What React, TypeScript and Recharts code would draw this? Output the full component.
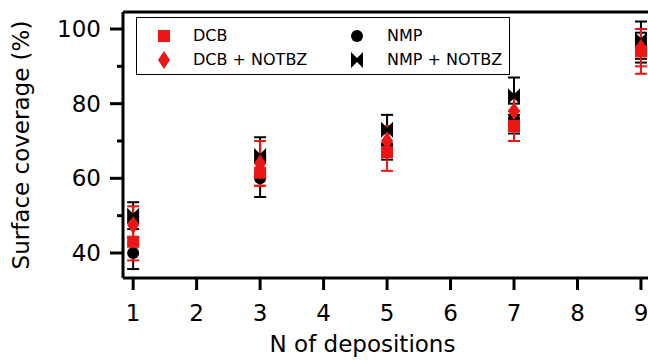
import React from 'react';
import { ScatterChart, Scatter, XAxis, YAxis, ErrorBar, ReferenceLine, Legend } from 'recharts';

const depositions = [1, 3, 5, 7, 9];
const dcb = [43, 61.5, 67, 74, 94];
const dcbErr = [5, 3.5, 5, 4, 6];
const dcbNotbz = [47.5, 64, 70, 78, 95];
const dcbNotbzErr = [5, 6, 4, 4, 5];
const nmp = [40, 60, 69, 76, 95];
const nmpErr = [4.3, 5, 4, 4, 4];
const nmpNotbz = [50, 66, 73, 82, 97];
const nmpNotbzErr = [3.6, 5, 4, 5, 5];

const xTicks = [1, 2, 3, 4, 5, 6, 7, 8, 9];
const yTicks = [40, 50, 60, 70, 80, 90, 100];
const yLabelTicks = [40, 60, 80, 100];
const xDomain = [0.84, 9.3];
const yDomain = [33.3, 104.55];

const RED = '#ee1515';
const BLACK = '#000';
const FONT = '"DejaVu Sans", sans-serif';

const mk = (ys: number[], errs: number[]) =>
  depositions.map((x, i) => ({ x, y: ys[i], err: errs[i] }));

const dcbData = mk(dcb, dcbErr);
const dcbNotbzData = mk(dcbNotbz, dcbNotbzErr);
const nmpData = mk(nmp, nmpErr);
const nmpNotbzData = mk(nmpNotbz, nmpNotbzErr);

const SquareShape = (p: any) => <rect x={p.cx - 6} y={p.cy - 6} width={12} height={12} fill={RED} />;
const CircleShape = (p: any) => <circle cx={p.cx} cy={p.cy} r={6} fill={BLACK} />;
const DiamondShape = (p: any) => (
  <polygon
    points={`${p.cx},${p.cy - 9} ${p.cx + 6},${p.cy} ${p.cx},${p.cy + 9} ${p.cx - 6},${p.cy}`}
    fill={RED}
  />
);
const BowtieShape = (p: any) => (
  <polygon
    points={`${p.cx - 6},${p.cy - 8} ${p.cx},${p.cy - 2} ${p.cx + 6},${p.cy - 8} ${p.cx + 6},${p.cy + 8} ${p.cx},${p.cy + 2} ${p.cx - 6},${p.cy + 8}`}
    fill={BLACK}
  />
);

const YTick = (props: any) => {
  const { x, y, payload } = props;
  const major = yLabelTicks.includes(payload.value);
  return (
    <g>
      <line x1={x} x2={x - (major ? 13 : 6)} y1={y} y2={y} stroke={BLACK} strokeWidth={3} />
      {major && (
        <text x={x - 22} y={y} textAnchor="end" dominantBaseline="central" fontSize={23} fontFamily={FONT} fill={BLACK}>
          {payload.value}
        </text>
      )}
    </g>
  );
};

const XTick = (props: any) => {
  const { x, y, payload } = props;
  return (
    <g>
      <line x1={x} x2={x} y1={y} y2={y + 12} stroke={BLACK} strokeWidth={3} />
      <text x={x} y={y + 43} textAnchor="middle" fontSize={23} fontFamily={FONT} fill={BLACK}>
        {payload.value}
      </text>
    </g>
  );
};

const YTitle = (props: any) => {
  const vb = props.viewBox || { x: 0, y: 12, width: 123, height: 266 };
  const cy = vb.y + vb.height / 2;
  const bx = 29;
  return (
    <text x={bx} y={cy} transform={`rotate(-90, ${bx}, ${cy})`} textAnchor="middle" fontSize={23} fontFamily={FONT} fill={BLACK}>
      Surface coverage (%)
    </text>
  );
};

const XTitle = (props: any) => {
  const vb = props.viewBox || { x: 123, y: 278, width: 536, height: 82 };
  const cx = vb.x + vb.width / 2 - 29;
  return (
    <text x={cx} y={vb.y + 74} textAnchor="middle" fontSize={23} fontFamily={FONT} fill={BLACK}>
      N of depositions
    </text>
  );
};

const LegendIcon = ({ kind }: { kind: string }) => {
  const c = { cx: 9, cy: 10 };
  return (
    <svg width={18} height={20} style={{ position: 'absolute', left: -9, top: -10 }}>
      {kind === 'square' && <SquareShape {...c} />}
      {kind === 'circle' && <CircleShape {...c} />}
      {kind === 'diamond' && <DiamondShape {...c} />}
      {kind === 'bowtie' && <BowtieShape {...c} />}
    </svg>
  );
};

const legendItems = [
  { name: 'DCB', kind: 'square', col: 0, row: 0 },
  { name: 'DCB + NOTBZ', kind: 'diamond', col: 0, row: 1 },
  { name: 'NMP', kind: 'circle', col: 1, row: 0 },
  { name: 'NMP + NOTBZ', kind: 'bowtie', col: 1, row: 1 },
];

const renderLegend = () => (
  <div
    style={{
      position: 'relative',
      width: 374,
      height: 58,
      boxSizing: 'border-box',
      border: '1.5px solid #000',
      background: '#fff',
      fontFamily: FONT,
      fontSize: 16,
      color: '#000',
    }}
  >
    {legendItems.map((it) => {
      const mx = it.col === 0 ? 27 : 220;
      const tx = it.col === 0 ? 56 : 250;
      const cy = it.row === 0 ? 18 : 42;
      return (
        <React.Fragment key={it.name}>
          <div style={{ position: 'absolute', left: mx, top: cy, width: 0, height: 0 }}>
            <LegendIcon kind={it.kind} />
          </div>
          <div style={{ position: 'absolute', left: tx, top: cy - 10, lineHeight: '20px', whiteSpace: 'nowrap' }}>
            {it.name}
          </div>
        </React.Fragment>
      );
    })}
  </div>
);

export default function App() {
  return (
    <div style={{ position: 'absolute', left: 0, top: 0, width: 648, height: 360, overflow: 'hidden', background: '#fff' }}>
      <ScatterChart width={660} height={360} margin={{ top: 12, right: 0, bottom: 0, left: 0 }}>
        <XAxis
          type="number"
          dataKey="x"
          domain={xDomain}
          ticks={xTicks}
          interval={0}
          allowDataOverflow
          height={82}
          axisLine={{ stroke: BLACK, strokeWidth: 3 }}
          tickLine={false}
          tickSize={0}
          tickMargin={0}
          tick={<XTick />}
          label={<XTitle />}
        />
        <YAxis
          type="number"
          dataKey="y"
          domain={yDomain}
          ticks={yTicks}
          interval={0}
          allowDataOverflow
          width={123}
          axisLine={{ stroke: BLACK, strokeWidth: 3 }}
          tickLine={false}
          tickSize={0}
          tickMargin={0}
          tick={<YTick />}
          label={<YTitle />}
        />
        <ReferenceLine y={yDomain[1]} stroke={BLACK} strokeWidth={3} />
        <Legend
          layout="horizontal"
          verticalAlign="middle"
          align="center"
          content={renderLegend}
          wrapperStyle={{ position: 'absolute', left: 136, top: 17, width: 374, height: 58 }}
        />
        <Scatter name="NMP" data={nmpData} shape={<CircleShape />} isAnimationActive={false}>
          <ErrorBar dataKey="err" direction="y" width={6} strokeWidth={2} stroke={BLACK} />
        </Scatter>
        <Scatter name="NMP + NOTBZ" data={nmpNotbzData} shape={<BowtieShape />} isAnimationActive={false}>
          <ErrorBar dataKey="err" direction="y" width={6} strokeWidth={2} stroke={BLACK} />
        </Scatter>
        <Scatter name="DCB" data={dcbData} shape={<SquareShape />} isAnimationActive={false}>
          <ErrorBar dataKey="err" direction="y" width={6} strokeWidth={2} stroke={RED} />
        </Scatter>
        <Scatter name="DCB + NOTBZ" data={dcbNotbzData} shape={<DiamondShape />} isAnimationActive={false}>
          <ErrorBar dataKey="err" direction="y" width={6} strokeWidth={2} stroke={RED} />
        </Scatter>
      </ScatterChart>
    </div>
  );
}
